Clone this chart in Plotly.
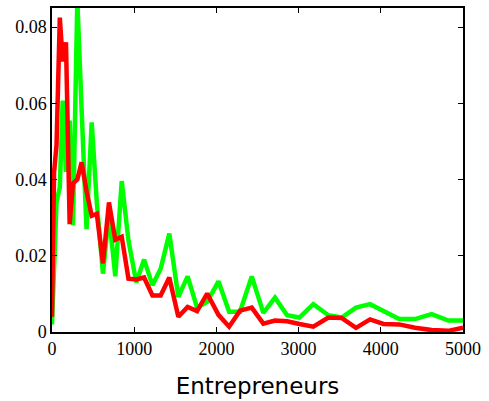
import plotly.graph_objects as go

x_vals = [0, 25, 55, 95, 130, 170, 215, 255, 308, 360, 420, 483, 545, 620, 693, 770,
          848, 930, 1025, 1120, 1222, 1322, 1427, 1537, 1650, 1765, 1888, 2025, 2155,
          2287, 2430, 2571, 2713, 2860, 3010, 3179, 3362, 3524, 3698, 3869, 4031, 4225,
          4416, 4619, 4821, 5000]

green_vals = [0.002, 0.018, 0.034, 0.038, 0.0607, 0.042, 0.0555, 0.028, 0.087, 0.0586,
              0.027, 0.055, 0.034, 0.0153, 0.031, 0.0146, 0.0396, 0.024, 0.013, 0.019,
              0.0123, 0.0166, 0.0258, 0.0092, 0.0146, 0.0064, 0.0079, 0.0133, 0.0053,
              0.0053, 0.0146, 0.005, 0.009, 0.0044, 0.0038, 0.0073, 0.0044, 0.0038,
              0.0064, 0.0073, 0.0055, 0.0034, 0.0034, 0.0047, 0.003, 0.003]

red_vals = [0.004, 0.0418, 0.049, 0.0825, 0.071, 0.076, 0.0283, 0.039, 0.040, 0.0445,
            0.037, 0.0305, 0.031, 0.018, 0.034, 0.0242, 0.025, 0.014, 0.0138, 0.0143,
            0.0096, 0.0096, 0.0143, 0.004, 0.0066, 0.0055, 0.0101, 0.0045, 0.0014,
            0.0056, 0.0064, 0.0022, 0.003, 0.0028, 0.0021, 0.0014, 0.0038, 0.0037,
            0.0011, 0.0033, 0.0021, 0.002, 0.0011, 0.0005, 0.0003, 0.0011]

x_ticks = [0, 1000, 2000, 3000, 4000, 5000]
y_ticks = [0, 0.02, 0.04, 0.06, 0.08]
y_tick_text = ["0", "0.02", "0.04", "0.06", "0.08"]

fig = go.Figure()
fig.add_trace(go.Scatter(x=x_vals, y=green_vals, mode="lines",
                         line=dict(color="#00FF00", width=4.5), showlegend=False))
fig.add_trace(go.Scatter(x=x_vals, y=red_vals, mode="lines",
                         line=dict(color="#FF0000", width=4.5), showlegend=False))

serif = "Liberation Serif, Times New Roman, serif"
axis_common = dict(showgrid=False, zeroline=False, showline=True, linecolor="black",
                   linewidth=1.5, mirror="allticks", ticks="inside", ticklen=5,
                   tickcolor="black", tickwidth=1,
                   tickfont=dict(family=serif, size=18, color="black"))

fig.update_xaxes(range=[0, 5000], tickvals=x_ticks,
                 ticktext=[str(v) for v in x_ticks],
                 title=dict(text="Entrepreneurs", standoff=20,
                            font=dict(family="DejaVu Sans", size=23, color="black")),
                 **axis_common)
fig.update_yaxes(range=[0, 0.085], tickvals=y_ticks, ticktext=y_tick_text,
                 **axis_common)

fig.update_layout(width=489, height=401, margin=dict(l=52, r=26, t=6, b=69),
                  plot_bgcolor="white", paper_bgcolor="white",
                  font=dict(family=serif))

fig.write_html("out.html", config={"displayModeBar": False},
               post_script="document.body.style.margin='0';")
